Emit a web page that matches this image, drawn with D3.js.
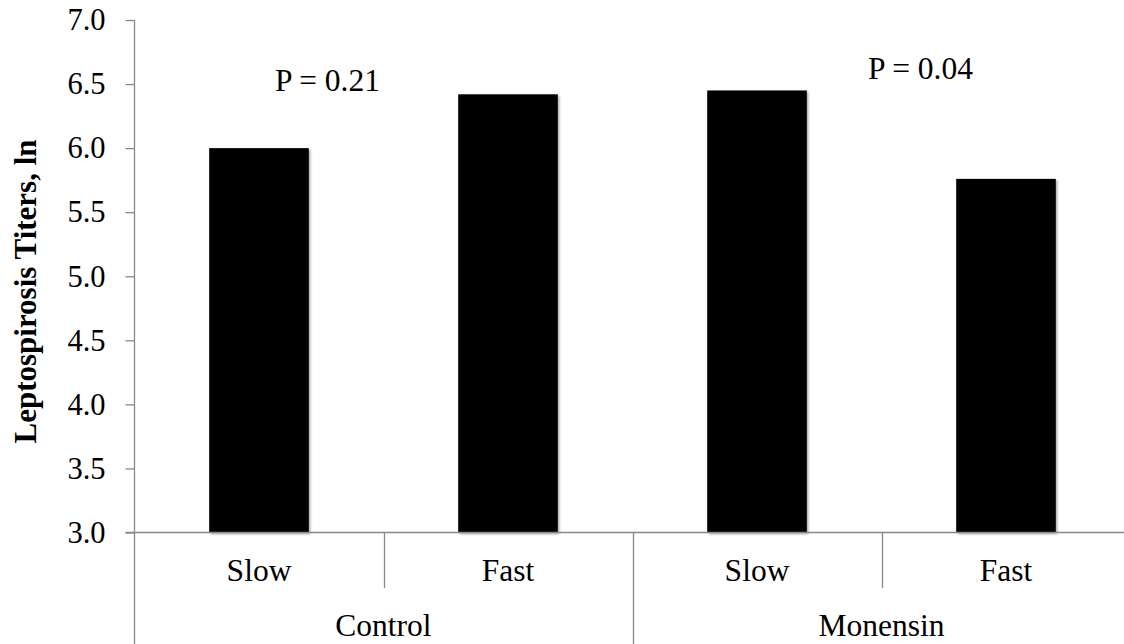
<!DOCTYPE html>
<html><head><meta charset="utf-8">
<script src="https://cdn.jsdelivr.net/npm/d3@7"></script>
<style>body{margin:0;background:#fff}svg{display:block}</style>
</head><body>
<script>
const groups = ["Control", "Monensin"];
const speeds = ["Slow", "Fast"];
const categories = ["Control|Slow", "Control|Fast", "Monensin|Slow", "Monensin|Fast"];
const values = [6.0, 6.42, 6.45, 5.76];
const yTicks = [3.0, 3.5, 4.0, 4.5, 5.0, 5.5, 6.0, 6.5, 7.0];
const pLabels = ["P = 0.21", "P = 0.04"];
const yTitle = "Leptospirosis Titers, ln";

(function(){
const FONT = "'Liberation Serif', 'Times New Roman', Times, serif";
const W = 1124, H = 644;
const svg = d3.select("body").append("svg").attr("width", W).attr("height", H);
const mLeft = 134.5, mRight = 1130.5, mTop = 20, mBottom = 532.5;
const x = d3.scaleBand().domain(categories).range([mLeft, mRight]).paddingInner(0.6).paddingOuter(0.3);
const y = d3.scaleLinear().domain([3, 7]).range([mBottom, mTop]);
const axisColor = "#898989";

const defs = svg.append("defs");
const f = defs.append("filter").attr("id","sh").attr("x","-10%").attr("y","-10%").attr("width","130%").attr("height","130%");
f.append("feDropShadow").attr("dx",1.5).attr("dy",1.5).attr("stdDeviation",1.2).attr("flood-color","#000").attr("flood-opacity",0.35);

// bars
svg.append("g").selectAll("rect").data(values).join("rect")
  .attr("x", (d,i) => x(categories[i]))
  .attr("width", x.bandwidth())
  .attr("y", d => y(d))
  .attr("height", d => y(3) - y(d))
  .attr("fill", "#000")
  .attr("filter","url(#sh)");

// y axis
const ya = svg.append("g").attr("transform", `translate(${mLeft},0)`)
  .call(d3.axisLeft(y).tickValues(yTicks).tickFormat(d3.format(".1f")).tickSize(9).tickPadding(20));
ya.attr("font-family", null).attr("font-size", null);
ya.select(".domain").remove();
ya.selectAll(".tick line").attr("stroke", axisColor).attr("stroke-width", 1.3);
ya.selectAll(".tick text").style("font-size", "30.5px").attr("fill", "#000").style("font-family", FONT);
svg.append("line").attr("x1", mLeft).attr("x2", mLeft).attr("y1", mTop).attr("y2", H).attr("stroke", axisColor).attr("stroke-width", 1.3);
// x axis baseline
svg.append("line").attr("x1", mLeft - 9).attr("x2", W).attr("y1", mBottom).attr("y2", mBottom).attr("stroke", axisColor).attr("stroke-width", 1.3);

const step = x.step();
// separators
categories.forEach((c, i) => {
  if (i === 0) return;
  const sx = Math.round(x(c) - (step - x.bandwidth()) / 2) + 0.5;
  const isGroup = c.split("|")[1] === speeds[0];
  svg.append("line").attr("x1", sx).attr("x2", sx).attr("y1", mBottom)
    .attr("y2", isGroup ? H : 588).attr("stroke", axisColor).attr("stroke-width", 1.3);
});

// speed labels
svg.append("g").selectAll("text").data(categories).join("text")
  .attr("x", c => x(c) + x.bandwidth() / 2)
  .attr("y", 581)
  .attr("text-anchor", "middle").style("font-size", "31.5px").style("font-family", FONT).attr("fill", "#000")
  .text(c => c.split("|")[1]);

// group labels
svg.append("g").selectAll("text").data(groups).join("text")
  .attr("x", g => {
    const cs = categories.filter(c => c.startsWith(g + "|"));
    return (x(cs[0]) + x(cs[cs.length - 1]) + x.bandwidth()) / 2;
  })
  .attr("y", 636)
  .attr("text-anchor", "middle").style("font-size", "31.5px").style("font-family", FONT).attr("fill", "#000")
  .text(g => g);

// P labels
const pPos = [[327.5, 91], [920.5, 79]];
svg.append("g").selectAll("text").data(pLabels).join("text")
  .attr("x", (d,i) => pPos[i][0]).attr("y", (d,i) => pPos[i][1])
  .attr("text-anchor", "middle").style("font-size", "31.5px").style("font-family", FONT).attr("fill", "#000")
  .text(d => d);

// y title
svg.append("text")
  .attr("transform", "translate(36,291.5) rotate(-90)")
  .attr("text-anchor", "middle").style("font-size", "31px").style("font-weight", "bold").style("font-family", FONT).attr("fill", "#000")
  .text(yTitle);
})();
</script>
</body></html>
